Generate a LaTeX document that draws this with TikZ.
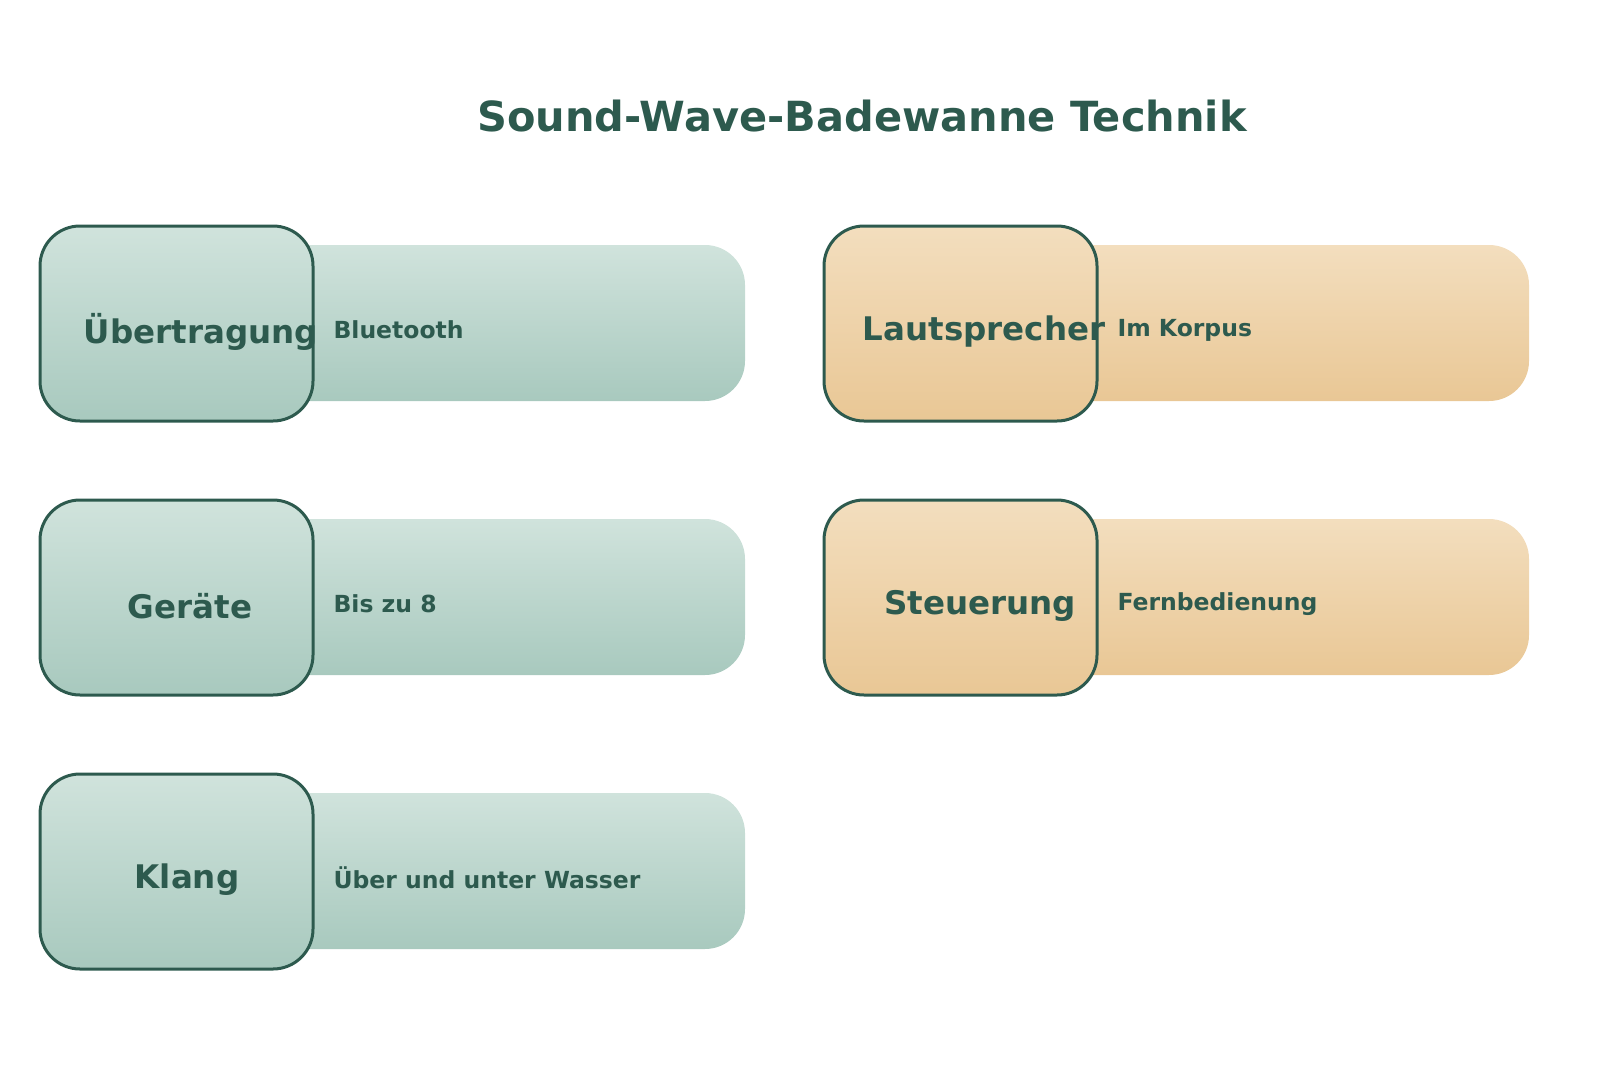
\documentclass[tikz,border=0pt]{standalone}
\usepackage{fontspec}
\setmainfont{DejaVu Sans}
\begin{document}
\definecolor{ink}{HTML}{2D5A4E}
\definecolor{gT}{HTML}{D0E3DC}\definecolor{gB}{HTML}{A8C9BE}
\definecolor{oT}{HTML}{F3DEBE}\definecolor{oB}{HTML}{E9C795}
\begin{tikzpicture}[x=1pt,y=-1pt,
  lab/.style={font=\bfseries\fontsize{32.5}{36}\selectfont,text=ink},
  det/.style={font=\bfseries\fontsize{23.5}{28}\selectfont,text=ink,anchor=west},
  ttl/.style={font=\bfseries\fontsize{41.5}{46}\selectfont,text=ink}]
\useasboundingbox (0,0) rectangle (1600,1070);
\node[ttl] (title) at (862,116) {Sound-Wave-Badewanne Technik};
\newcommand{\card}[7]{% x y top bottom label labelx detail
  \shade[top color=#3,bottom color=#4] (#1+250,#2+19) [rounded corners=40] -- (#1+705,#2+19)
     -- (#1+705,#2+175) [sharp corners] -- (#1+250,#2+175) -- cycle;
  \shade[top color=#3,bottom color=#4,draw=ink,line width=3,rounded corners=40]
     (#1,#2) rectangle (#1+273,#2+195);
  \node[lab] at (#6,#2+106) {#5};
  \node[det] at (#1+290,#2+104) {#7};
}
\card{40}{226}{gT}{gB}{Übertragung}{201}{Bluetooth}
\card{40}{500}{gT}{gB}{Geräte}{190}{Bis zu 8}
\card{40}{774}{gT}{gB}{Klang}{187}{Über und unter Wasser}
\card{824}{226}{oT}{oB}{Lautsprecher}{984}{Im Korpus}
\card{824}{500}{oT}{oB}{Steuerung}{980}{Fernbedienung}
\end{tikzpicture}
\end{document}
